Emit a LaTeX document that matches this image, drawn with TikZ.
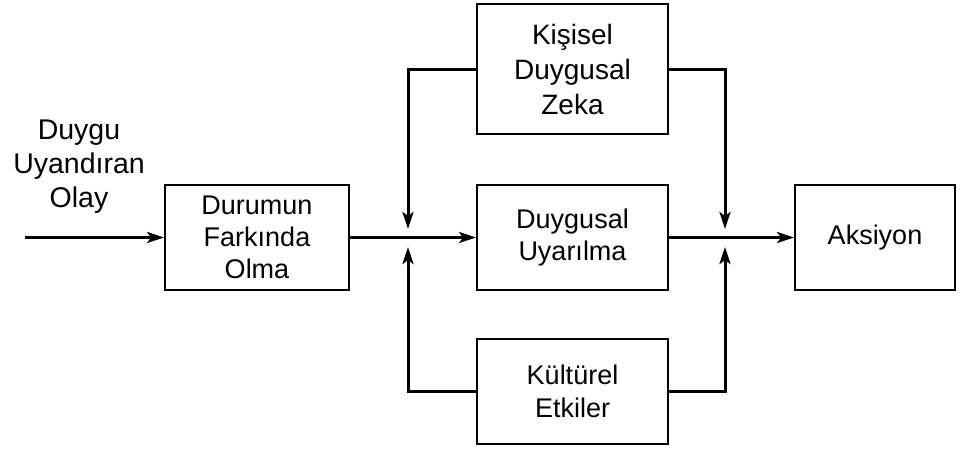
\documentclass[tikz,border=0pt]{standalone}
\usepackage{fontspec}
\setmainfont{Liberation Sans}
\usetikzlibrary{arrows.meta}
\begin{document}
\begin{tikzpicture}[x=1pt,y=-1pt,
  box/.style={draw,line width=1.8pt,align=center,inner sep=0pt,
    font=\fontsize{27}{33}\selectfont},
  conn/.style={line width=3pt},
  arr/.style={conn,-{Stealth[length=17pt,width=11pt,inset=4pt]}}]
\useasboundingbox (0,0) rectangle (960,450);
\node[box,minimum width=184pt,minimum height=105pt,font=\fontsize{27}{32}\selectfont] (dur) at (257,237.5) {Durumun\\Farkında\\Olma};
\node[box,minimum width=191pt,minimum height=130pt,font=\fontsize{28}{35}\selectfont] (kis) at (572.5,69) {Kişisel\\Duygusal\\Zeka};
\node[box,minimum width=191pt,minimum height=105pt,font=\fontsize{27}{32}\selectfont] (uya) at (572.5,237.5) {Duygusal\\Uyarılma};
\node[box,minimum width=191pt,minimum height=105pt,font=\fontsize{27}{33}\selectfont] (kul) at (572.5,391.5) {Kültürel\\Etkiler};
\node[box,minimum width=160pt,minimum height=105pt,font=\fontsize{27}{33}\selectfont] (aks) at (875,237.5) {Aksiyon};
\node[align=center,font=\fontsize{28.5}{34}\selectfont] (lab) at (79,167) {Duygu\\Uyandıran\\Olay};
\coordinate (in) at (25,237.5);
\coordinate (j1t) at (408,229);
\coordinate (j1b) at (408,247);
\coordinate (j2t) at (725,229);
\coordinate (j2b) at (725,247);
\draw[arr] (in) -- (dur.west);
\draw[arr] (dur.east) -- (uya.west);
\draw[arr] (uya.east) -- (aks.west);
\draw[arr] (kis.west) -| (j1t);
\draw[arr] (kul.west) -| (j1b);
\draw[arr] (kis.east) -| (j2t);
\draw[arr] (kul.east) -| (j2b);
\end{tikzpicture}
\end{document}
